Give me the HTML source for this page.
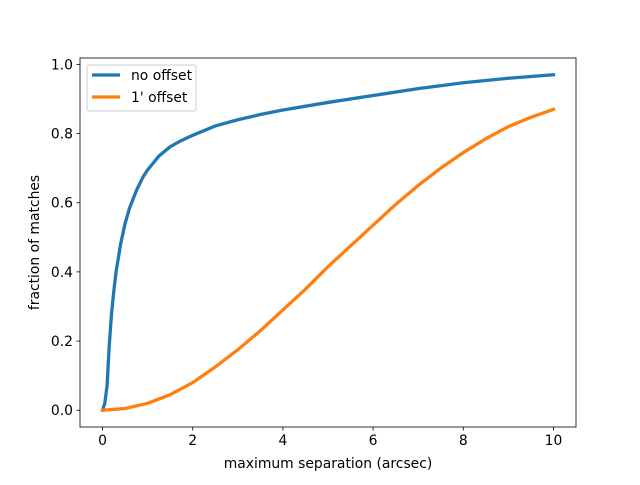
<!DOCTYPE html>
<html><head><meta charset="utf-8"><style>
body{margin:0;background:#fff}
svg text{font-family:"DejaVu Sans","Liberation Sans",sans-serif;font-size:13.9px;fill:#000}
</style></head><body>
<svg width="640" height="480">
<rect width="640" height="480" fill="#fff"/>
<g id="plot"></g>
</svg>
<script>
const xs=[0,0.05,0.1,0.15,0.2,0.25,0.3,0.4,0.5,0.6,0.75,0.9,1,1.25,1.5,1.75,2,2.5,3,3.5,4,5,6,7,8,9,10];
const noOffset=[0,0.02,0.07,0.19,0.28,0.345,0.40,0.48,0.54,0.585,0.635,0.675,0.695,0.735,0.762,0.78,0.795,0.822,0.84,0.855,0.868,0.89,0.91,0.93,0.947,0.96,0.97];
const oxs=[0,0.5,1,1.5,2,2.5,3,3.5,4,4.5,5,5.5,6,6.5,7,7.5,8,8.5,9,9.5,10];
const oneOffset=[0,0.005,0.02,0.045,0.08,0.125,0.175,0.23,0.29,0.35,0.415,0.475,0.535,0.595,0.65,0.7,0.745,0.785,0.82,0.847,0.87];
const xTicks=[0,2,4,6,8,10];
const yTicks=[0,0.2,0.4,0.6,0.8,1.0];
const L=80,R=576,T=58,B=427,x0=-0.5,x1=10.5,y0=-0.0485,y1=1.0185;
const X=v=>L+(v-x0)/(x1-x0)*(R-L);
const Y=v=>B-(v-y0)/(y1-y0)*(B-T);
const g=document.getElementById('plot');
const NS='http://www.w3.org/2000/svg';
function mk(t,a,txt){const e=document.createElementNS(NS,t);for(const k in a)e.setAttribute(k,a[k]);if(txt!==undefined)e.textContent=txt;g.appendChild(e);return e;}
function line(px,py,color,name){
 const e=mk('polyline',{points:px.map((v,i)=>X(v)+','+Y(py[i])).join(' '),fill:'none',stroke:color,'stroke-width':3.3,'stroke-linejoin':'round','stroke-linecap':'square'});
 
 
}
line(xs,noOffset,'#1f77b4','line-no-offset');
line(oxs,oneOffset,'#ff7f0e','line-1-offset');
const fr=mk('rect',{x:L,y:T,width:R-L,height:B-T,fill:'none',stroke:'#000','stroke-width':0.8});


xTicks.forEach(v=>{
 const tk=mk('line',{x1:X(v),x2:X(v),y1:B,y2:B+3.5,stroke:'#000','stroke-width':0.8});
 
 
 const t=mk('text',{x:X(v),y:B+18,'text-anchor':'middle'},String(v));
 
 
});
yTicks.forEach(v=>{
 const tk=mk('line',{x1:L-3.5,x2:L,y1:Y(v),y2:Y(v),stroke:'#000','stroke-width':0.8});
 
 
 const t=mk('text',{x:L-7,y:Y(v)+5,'text-anchor':'end'},v.toFixed(1));
 
 
});
const xt=mk('text',{x:(L+R)/2,y:468,'text-anchor':'middle'},'maximum separation (arcsec)');


const yt=mk('text',{x:39,y:(T+B)/2,'text-anchor':'middle',transform:'rotate(-90 39 '+(T+B)/2+')'},'fraction of matches');


const lg=mk('rect',{x:87,y:65,width:109,height:46,rx:2,fill:'#fff','fill-opacity':0.8,stroke:'#ccc','stroke-width':1});


[['no offset','#1f77b4',80],["1' offset",'#ff7f0e',102]].forEach(([n,c,y])=>{
 const l=mk('line',{x1:92,x2:120,y1:y-5,y2:y-5,stroke:c,'stroke-width':3.3});
 
 
 const t=mk('text',{x:131,y:y},n);
 
 
});
</script>
</body></html>
